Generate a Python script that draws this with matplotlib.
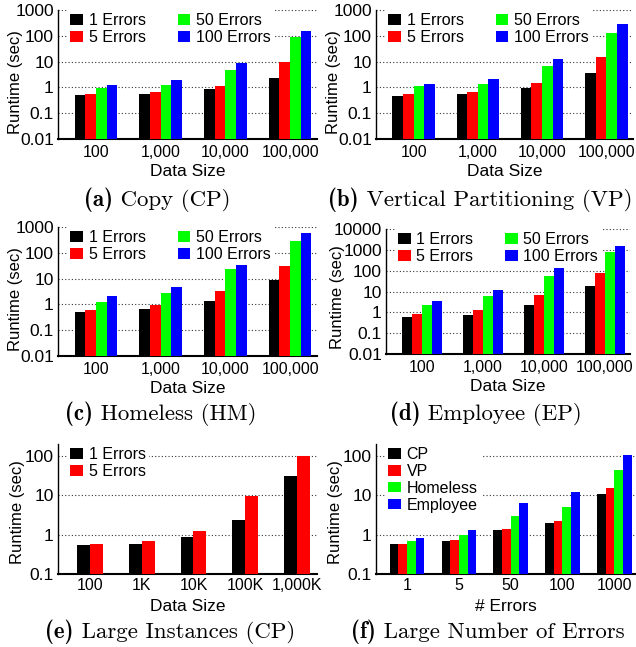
import numpy as np
import matplotlib
matplotlib.use('Agg')
import matplotlib.pyplot as plt

plt.rcParams['font.family'] = ['Liberation Sans', 'DejaVu Sans']
plt.rcParams['font.size'] = 12

# categories
sizes = ['100', '1,000', '10,000', '100,000']
large_sizes = ['100', '1K', '10K', '100K', '1,000K']
num_errors = ['1', '5', '50', '100', '1000']
err_labels = ['1 Errors', '5 Errors', '50 Errors', '100 Errors']
ds_labels = ['CP', 'VP', 'Homeless', 'Employee']
colors = ['#000000', '#ff0000', '#00ff00', '#0000ff']

# runtime (sec), one row per series
copy_times = [[0.52, 0.57, 0.89, 2.36],
              [0.57, 0.68, 1.16, 10.0],
              [0.97, 1.27, 4.8, 90],
              [1.27, 1.98, 9.0, 155]]
vp_times = [[0.48, 0.57, 0.97, 3.7],
            [0.57, 0.68, 1.5, 15.3],
            [1.16, 1.38, 6.9, 130],
            [1.38, 2.16, 12.8, 290]]
hm_times = [[0.52, 0.68, 1.39, 9.0],
            [0.62, 0.97, 3.4, 31],
            [1.27, 2.83, 23.7, 295],
            [2.17, 4.8, 48.7, 600]]
ep_times = [[0.6, 0.74, 2.26, 18.8],
            [0.83, 1.3, 6.9, 80],
            [2.26, 6.1, 57, 745],
            [3.5, 12, 134, 1590]]
large_times = [[0.54, 0.57, 0.855, 2.3, 30.3],
               [0.58, 0.68, 1.21, 9.4, 98]]
errors_times = [[0.57, 0.68, 1.29, 1.94, 10.6],
                [0.57, 0.72, 1.37, 2.2, 14.9],
                [0.68, 0.96, 2.9, 5.0, 43.2],
                [0.81, 1.29, 6.25, 11.9, 104]]

W, H = 636, 647
fig = plt.figure(figsize=(W / 100, H / 100), dpi=100)


def box(left, right, top, bottom):
    return [left / W, 1 - bottom / H, (right - left) / W, (bottom - top) / H]


def panel(rect, cats, data, labels, ylim, yticks, xlabel, group, xleft, ncol,
          ylab_pos, xpad, xlabpad):
    ax = fig.add_axes(rect)
    n = len(data)
    w = group / n
    x = np.arange(len(cats))
    for i, vals in enumerate(data):
        ax.bar(x - group / 2 + w * (i + 0.5), vals, width=w, color=colors[i],
               label=labels[i], zorder=3, linewidth=0)
    ax.set_yscale('log')
    ax.set_ylim(*ylim)
    ax.set_xlim(-xleft, len(cats) - xleft)
    ax.set_yticks(yticks)
    ax.set_yticklabels([('%g' % t) for t in yticks], fontsize=12.5)
    ax.minorticks_off()
    ax.set_xticks(x)
    ax.set_xticklabels(cats, fontsize=11.5)
    ax.tick_params(axis='x', length=0, pad=xpad)
    ax.tick_params(axis='y', length=0, pad=3)
    ax.yaxis.grid(True, linestyle=(0, (1, 2)), color='#333333', linewidth=0.8)
    ax.set_axisbelow(True)
    for s in ['top', 'right']:
        ax.spines[s].set_visible(False)
    ax.spines['left'].set_linewidth(1.0)
    ax.spines['bottom'].set_linewidth(1.5)
    ax.set_ylabel('Runtime (sec)', fontsize=12, va='center')
    ax.yaxis.set_label_coords(*ylab_pos)
    ax.set_xlabel(xlabel, fontsize=12.5, labelpad=xlabpad)
    ax.legend(loc='upper left', bbox_to_anchor=(0.035, 1.0), ncol=ncol, frameon=True,
              facecolor='white', edgecolor='none', framealpha=1, fancybox=False,
              fontsize=11.5, borderpad=0.2, borderaxespad=0, handlelength=0.8,
              handleheight=0.6, handletextpad=0.35, labelspacing=0.12,
              columnspacing=2.0)
    return ax


dec = [0.01, 0.1, 1, 10, 100, 1000]
panel(box(58, 317, 10, 139), sizes, copy_times, err_labels, (0.01, 1000), dec,
      'Data Size', 0.66, 0.585, 2, (-0.166, 0.445), 4.5, 2.5)
panel(box(376, 633, 10, 139), sizes, vp_times, err_labels, (0.01, 1000), dec,
      'Data Size', 0.66, 0.585, 2, (-0.166, 0.445), 4.5, 2.5)
panel(box(58, 317, 227, 356), sizes, hm_times, err_labels, (0.01, 1000), dec,
      'Data Size', 0.66, 0.585, 2, (-0.166, 0.445), 4.5, 2.5)
panel(box(386, 630, 229, 354), sizes, ep_times, err_labels, (0.01, 10000), dec + [10000],
      'Data Size', 0.66, 0.59, 2, (-0.2, 0.455), 4.5, 2.5)
panel(box(58, 317, 444, 574), large_sizes, large_times, err_labels, (0.1, 200),
      [0.1, 1, 10, 100], 'Data Size', 0.5, 0.615, 1, (-0.155, 0.48), 3, 4)
panel(box(376, 635, 444, 574), num_errors, errors_times, ds_labels, (0.1, 200),
      [0.1, 1, 10, 100], '# Errors', 0.67, 0.6, 1, (-0.155, 0.48), 3, 4)

# captions: bold tag in cmb10 followed by the title in cmr10
captions = [(157, 200, '(a)', 'Copy (CP)'),
            (480, 200, '(b)', 'Vertical Partitioning (VP)'),
            (161, 414, '(c)', 'Homeless (HM)'),
            (486, 414, '(d)', 'Employee (EP)'),
            (170, 632, '(e)', 'Large Instances (CP)'),
            (488, 632, '(f)', 'Large Number of Errors')]
renderer = fig.canvas.get_renderer()
cap_size = 16.5
for cx, cy, tag, title in captions:
    t1 = fig.text(0, 1 - cy / H, tag, ha='left', va='center',
                  fontfamily='cmb10', fontsize=cap_size)
    t2 = fig.text(0, 1 - cy / H, ' ' + title, ha='left', va='center',
                  fontfamily='cmr10', fontsize=cap_size)
    w1 = t1.get_window_extent(renderer).width
    w2 = t2.get_window_extent(renderer).width
    x0 = cx - (w1 + w2) / 2
    t1.set_x(x0 / W)
    t2.set_x((x0 + w1) / W)

fig.savefig('out.png', dpi=100)
